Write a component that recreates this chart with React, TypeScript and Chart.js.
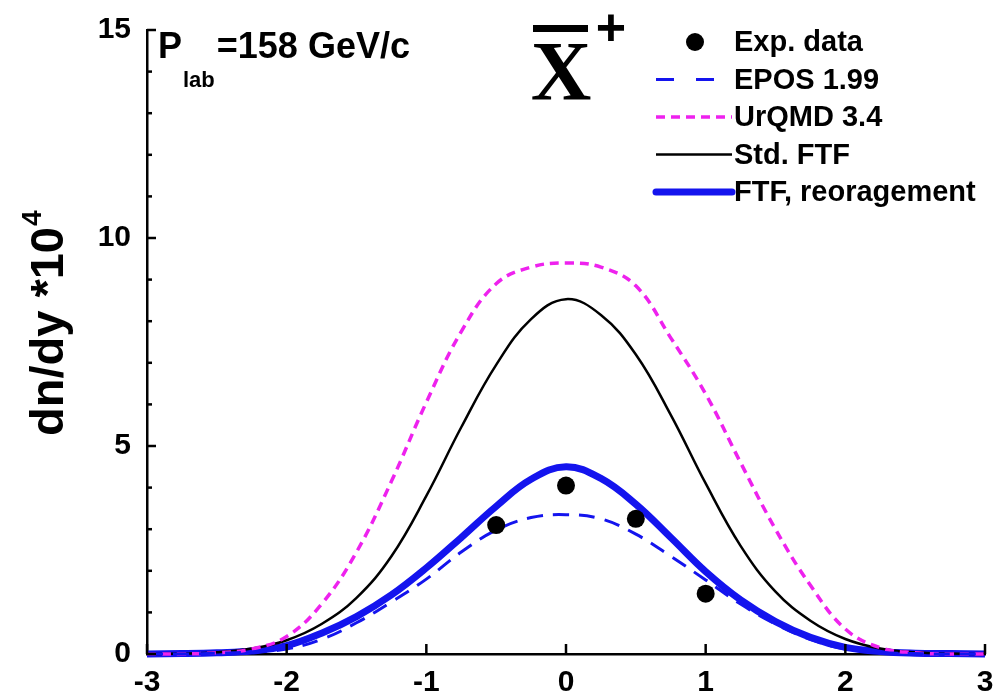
import React, { useEffect, useRef } from 'react';
import { Chart, registerables } from 'chart.js';

Chart.register(...registerables);

// Rapidity grid shared by the model curves
const rapidity = [-3, -2.75, -2.5, -2.25, -2, -1.75, -1.5, -1.25, -1, -0.75, -0.5, -0.25, 0, 0.25, 0.5, 0.75, 1, 1.25, 1.5, 1.75, 2, 2.25, 2.5, 2.75, 3];

// Model predictions, dn/dy * 10^4
const stdFtf = [0, 0.01, 0.04, 0.13, 0.33, 0.72, 1.35, 2.35, 3.8, 5.45, 6.95, 8.05, 8.53, 8.15, 7.2, 5.75, 4.1, 2.6, 1.5, 0.8, 0.36, 0.13, 0.04, 0.01, 0];
const urqmd = [0, 0, 0.03, 0.12, 0.42, 1.2, 2.45, 4.15, 6.05, 7.75, 8.9, 9.3, 9.4, 9.3, 8.85, 7.6, 6.25, 4.6, 3.0, 1.65, 0.6, 0.15, 0.03, 0, 0];
const epos = [0, 0, 0.02, 0.05, 0.12, 0.35, 0.75, 1.25, 1.8, 2.45, 2.98, 3.28, 3.35, 3.25, 2.88, 2.35, 1.78, 1.2, 0.72, 0.35, 0.12, 0.04, 0.01, 0, 0];
const ftfReorg = [0, 0.01, 0.03, 0.07, 0.2, 0.5, 0.9, 1.42, 2.07, 2.8, 3.55, 4.2, 4.5, 4.22, 3.6, 2.8, 1.98, 1.3, 0.78, 0.4, 0.16, 0.06, 0.02, 0.01, 0];

// Measured points
const expRapidity = [-0.5, 0, 0.5, 1];
const expDndy = [3.1, 4.05, 3.25, 1.45];

// Axis ticks
const xTicks = [-3, -2, -1, 0, 1, 2, 3];
const yTicks = [0, 5, 10, 15];
const yMinorStep = 1;

const SANS = '"Liberation Sans", Arial, Helvetica, sans-serif';
const SERIF = '"Liberation Serif", "Times New Roman", serif';
const BLUE = '#1414ee';
const MAGENTA = '#ee22ee';

const pts = (xs: number[], ys: number[]) => xs.map((x, i) => ({ x, y: ys[i] }));

const overlay = {
  id: 'overlay',
  afterDraw(chart: any) {
    const { ctx, chartArea, scales } = chart;
    const xs = scales.x;
    const ys = scales.y;
    ctx.save();

    // inward tick marks
    ctx.strokeStyle = '#000';
    ctx.lineWidth = 2.5;
    const yMax = yTicks[yTicks.length - 1];
    for (let v = yTicks[0]; v <= yMax + 1e-9; v += yMinorStep) {
      const py = ys.getPixelForValue(v);
      const len = yTicks.includes(v) ? 9 : 5;
      ctx.beginPath();
      ctx.moveTo(chartArea.left, py);
      ctx.lineTo(chartArea.left + len, py);
      ctx.stroke();
    }
    for (const v of xTicks) {
      const px = xs.getPixelForValue(v);
      ctx.beginPath();
      ctx.moveTo(px, chartArea.bottom);
      ctx.lineTo(px, chartArea.bottom - 10);
      ctx.stroke();
    }

    // y-axis title with superscript
    ctx.fillStyle = '#000';
    ctx.save();
    ctx.translate(50, 436);
    ctx.rotate(-Math.PI / 2);
    ctx.font = `bold 47px ${SANS}`;
    ctx.textAlign = 'left';
    ctx.textBaseline = 'middle';
    const main = 'dn/dy *10';
    ctx.fillText(main, 0, 0);
    const w = ctx.measureText(main).width;
    ctx.font = `bold 28px ${SANS}`;
    ctx.fillText('4', w + 1, -17);
    ctx.restore();

    // beam momentum annotation
    ctx.textAlign = 'left';
    ctx.textBaseline = 'alphabetic';
    ctx.font = `bold 36px ${SANS}`;
    ctx.fillText('P', 158, 58);
    let cx = 158 + ctx.measureText('P').width + 1;
    ctx.font = `bold 22px ${SANS}`;
    ctx.fillText('lab', cx, 87);
    cx += ctx.measureText('lab').width + 2;
    ctx.font = `bold 36px ${SANS}`;
    ctx.fillText('=158 GeV/c', cx, 58);

    // particle symbol: anti-Xi plus
    ctx.font = `bold 84px ${SERIF}`;
    ctx.textAlign = 'center';
    ctx.fillText('X', 561, 100);
    ctx.fillRect(533, 25, 55, 7);
    ctx.font = `bold 52px ${SANS}`;
    ctx.fillText('+', 611, 45);

    // legend
    const rows = [42, 79.5, 117, 154.5, 192];
    const items = chart.data.datasets;
    const order = [4, 3, 2, 1, 0];
    ctx.textAlign = 'left';
    ctx.textBaseline = 'middle';
    order.forEach((di: number, r: number) => {
      const ds = items[di];
      const y = rows[r];
      if (ds.showLine === false) {
        ctx.beginPath();
        ctx.arc(695, y, 9, 0, Math.PI * 2);
        ctx.fillStyle = ds.pointBackgroundColor;
        ctx.fill();
      } else {
        ctx.save();
        ctx.strokeStyle = ds.borderColor;
        ctx.lineWidth = ds.borderWidth;
        ctx.setLineDash(ds.legendDash || []);
        ctx.lineCap = ds.borderWidth > 5 ? 'round' : 'butt';
        ctx.beginPath();
        ctx.moveTo(656, y);
        ctx.lineTo(732, y);
        ctx.stroke();
        ctx.restore();
      }
      ctx.fillStyle = '#000';
      ctx.font = `bold 29px ${SANS}`;
      ctx.fillText(ds.label, 734, y + 1);
    });

    ctx.restore();
  },
};

export default function App() {
  const canvasRef = useRef<HTMLCanvasElement | null>(null);

  useEffect(() => {
    const canvas = canvasRef.current;
    if (!canvas) return;
    const curve = {
      type: 'line' as const,
      pointRadius: 0,
      fill: false,
      tension: 0.4,
      clip: false as any,
    };
    const chart = new Chart(canvas, {
      type: 'line',
      data: {
        datasets: [
          {
            ...curve,
            label: 'FTF, reoragement',
            data: pts(rapidity, ftfReorg),
            borderColor: BLUE,
            borderWidth: 7,
            order: 4,
          } as any,
          {
            ...curve,
            label: 'Std. FTF',
            data: pts(rapidity, stdFtf),
            borderColor: '#000',
            borderWidth: 2.5,
            order: 3,
          } as any,
          {
            ...curve,
            label: 'UrQMD 3.4',
            data: pts(rapidity, urqmd),
            borderColor: MAGENTA,
            borderWidth: 3.5,
            borderDash: [9, 6],
            legendDash: [9, 6],
            order: 2,
          } as any,
          {
            ...curve,
            label: 'EPOS 1.99',
            data: pts(rapidity, epos),
            borderColor: BLUE,
            borderWidth: 3,
            borderDash: [16, 10],
            legendDash: [18, 22],
            order: 1,
          } as any,
          {
            label: 'Exp. data',
            data: pts(expRapidity, expDndy),
            showLine: false,
            pointRadius: 9,
            pointBackgroundColor: '#000',
            pointBorderColor: '#000',
            pointBorderWidth: 0,
            order: 0,
          } as any,
        ],
      },
      options: {
        responsive: false,
        devicePixelRatio: 1,
        animation: false,
        events: [],
        layout: { padding: { top: 30, right: 11, left: 0, bottom: 0 } },
        plugins: {
          legend: { display: false },
          tooltip: { enabled: false },
        },
        scales: {
          x: {
            type: 'linear',
            min: xTicks[0],
            max: xTicks[xTicks.length - 1],
            afterBuildTicks: (s: any) => {
              s.ticks = xTicks.map((v) => ({ value: v }));
            },
            afterFit: (s: any) => {
              s.height = 42;
              s.paddingLeft = 0;
              s.paddingRight = 0;
            },
            grid: { display: true, drawOnChartArea: false, drawTicks: false },
            border: { display: true, color: '#000', width: 2.5 },
            ticks: {
              color: '#000',
              padding: 11,
              maxRotation: 0,
              autoSkip: false,
              font: { family: SANS, size: 30, weight: 'bold' },
            },
          },
          y: {
            type: 'linear',
            min: yTicks[0],
            max: yTicks[yTicks.length - 1],
            afterBuildTicks: (s: any) => {
              s.ticks = yTicks.map((v) => ({ value: v }));
            },
            afterFit: (s: any) => {
              s.width = 147;
              s.paddingTop = 0;
              s.paddingBottom = 0;
            },
            grid: { display: true, drawOnChartArea: false, drawTicks: false },
            border: { display: true, color: '#000', width: 2.5 },
            ticks: {
              color: '#000',
              padding: 16,
              autoSkip: false,
              font: { family: SANS, size: 30, weight: 'bold' },
            },
          },
        },
      } as any,
      plugins: [overlay],
    });
    return () => chart.destroy();
  }, []);

  return (
    <div style={{ position: 'absolute', left: 0, top: 0, width: 996, height: 696, background: '#fff' }}>
      <canvas ref={canvasRef} width={996} height={696} style={{ display: 'block' }} />
    </div>
  );
}
